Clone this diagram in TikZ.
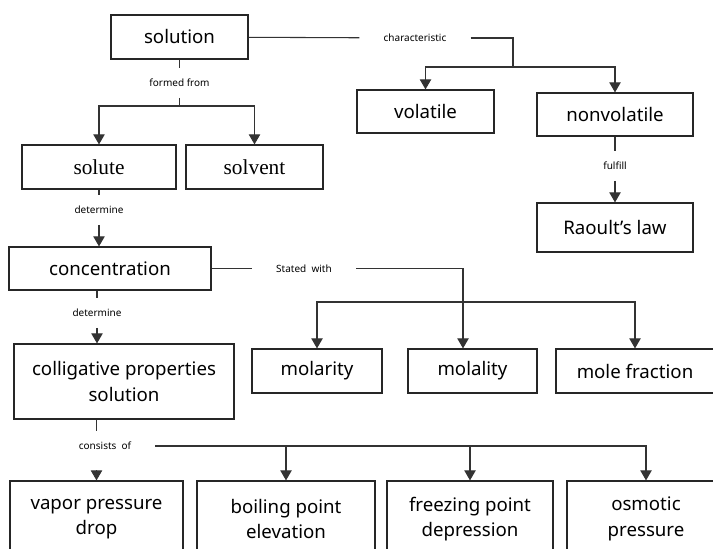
\documentclass[tikz,border=0pt]{standalone}
\usepackage{fontspec}
\setmainfont{Noto Sans}
\newfontfamily\boxserif{Liberation Serif}
\usetikzlibrary{arrows, arrows.meta}

\begin{document}
\begin{tikzpicture}[x=0.75pt, y=-0.75pt,
  box/.style={draw=black!85, line width=0.9pt, inner sep=0pt, align=center, font=\fontsize{14}{19}\selectfont},
  serifbox/.style={box, font=\boxserif\fontsize{16}{18}\selectfont},
  lbl/.style={inner xsep=18pt, inner ysep=8pt, font=\fontsize{7.5}{8}\selectfont},
  link/.style={draw=black!80, line width=0.8pt},
  arr/.style={link, -{Triangle[width=8.5pt,length=7.5pt]}}]
\useasboundingbox (0,0) rectangle (713,549);
\clip (0,0) rectangle (713,549);

\node[box, minimum width=102.75pt, minimum height=33pt] (solution) at (179.5,37) {solution};
\node[box, minimum width=102.75pt, minimum height=32.25pt] (volatile) at (425.5,111.5) {volatile};
\node[box, minimum width=117pt, minimum height=32.25pt] (nonvolatile) at (615,114.5) {nonvolatile};
\node[box, minimum width=117pt, minimum height=36.75pt] (raoult) at (615,227.5) {Raoult’s law};
\node[serifbox, minimum width=115.5pt, minimum height=33pt] (solute) at (99,167) {solute};
\node[serifbox, minimum width=102.75pt, minimum height=33pt] (solvent) at (254.5,167) {solvent};
\node[box, minimum width=151.5pt, minimum height=32.25pt] (concentration) at (110,268.5) {concentration};
\node[box, minimum width=165pt, minimum height=56.25pt] (colligative) at (124,381.5) {colligative properties\\solution};
\node[box, minimum width=97.5pt, minimum height=33pt] (molarity) at (317,371) {molarity};
\node[box, minimum width=96.75pt, minimum height=33pt] (molality) at (472.5,371) {molality};
\node[box, minimum width=118.5pt, minimum height=33pt] (molefraction) at (635,371) {mole fraction};
\node[box, minimum width=129.75pt, minimum height=57pt] (vapor) at (96.5,519) {vapor pressure\\drop};
\node[box, minimum width=133.5pt, minimum height=57pt] (boiling) at (286,519) {boiling point\\elevation};
\node[box, minimum width=124.5pt, minimum height=57pt] (freezing) at (470,519) {freezing point\\depression};
\node[box, minimum width=118.5pt, minimum height=57pt] (osmotic) at (646,519) {osmotic\\pressure};

\node[lbl] (charlbl) at (415,38) {characteristic};
\node[lbl] (formlbl) at (179.5,83) {formed from};
\node[lbl] (fulfilllbl) at (615,166) {fulfill};
\node[lbl] (detlbl) at (99,210) {determine};
\node[lbl] (statedlbl) at (304,268.5) {Stated\ \ with};
\node[lbl] (detlbl2) at (97,313) {determine};
\node[lbl] (conslbl) at (105,446) {consists\ \ of};

\coordinate (charsplit) at (513,67);
\coordinate (formsplit) at (179.5,106);
\coordinate (statedsplit) at (463,302);

\draw[link] (solution) -- (charlbl);
\draw[link] (charlbl.east) -| (charsplit);
\draw[arr] (charsplit) -| (volatile);
\draw[arr] (charsplit) -| (nonvolatile);
\draw[link] (nonvolatile) -- (fulfilllbl);
\draw[arr] (fulfilllbl) -- (raoult);

\draw[link] (solution) -- (formlbl);
\draw[link] (formlbl) -- (formsplit);
\draw[arr] (formsplit) -| (solute);
\draw[arr] (formsplit) -| (solvent);

\draw[link] (solute) -- (detlbl);
\draw[arr] (detlbl) -- (detlbl |- concentration.north);
\draw[link] (detlbl2 |- concentration.south) -- (detlbl2);
\draw[arr] (detlbl2) -- (detlbl2 |- colligative.north);

\draw[link] (concentration) -- (statedlbl);
\draw[arr] (statedlbl.east) -| (statedsplit |- molality.north);
\draw[arr] (statedsplit) -| (molarity);
\draw[arr] (statedsplit) -| (molefraction);

\draw[link] (colligative.south -| vapor) -- (conslbl.north -| vapor);
\draw[arr] ([yshift=-7pt]conslbl.south -| vapor) -- (vapor);
\draw[arr] (conslbl.east) -| (osmotic);
\draw[arr] (conslbl.east -| boiling) -- (boiling);
\draw[arr] (conslbl.east -| freezing) -- (freezing);
\end{tikzpicture}
\end{document}
